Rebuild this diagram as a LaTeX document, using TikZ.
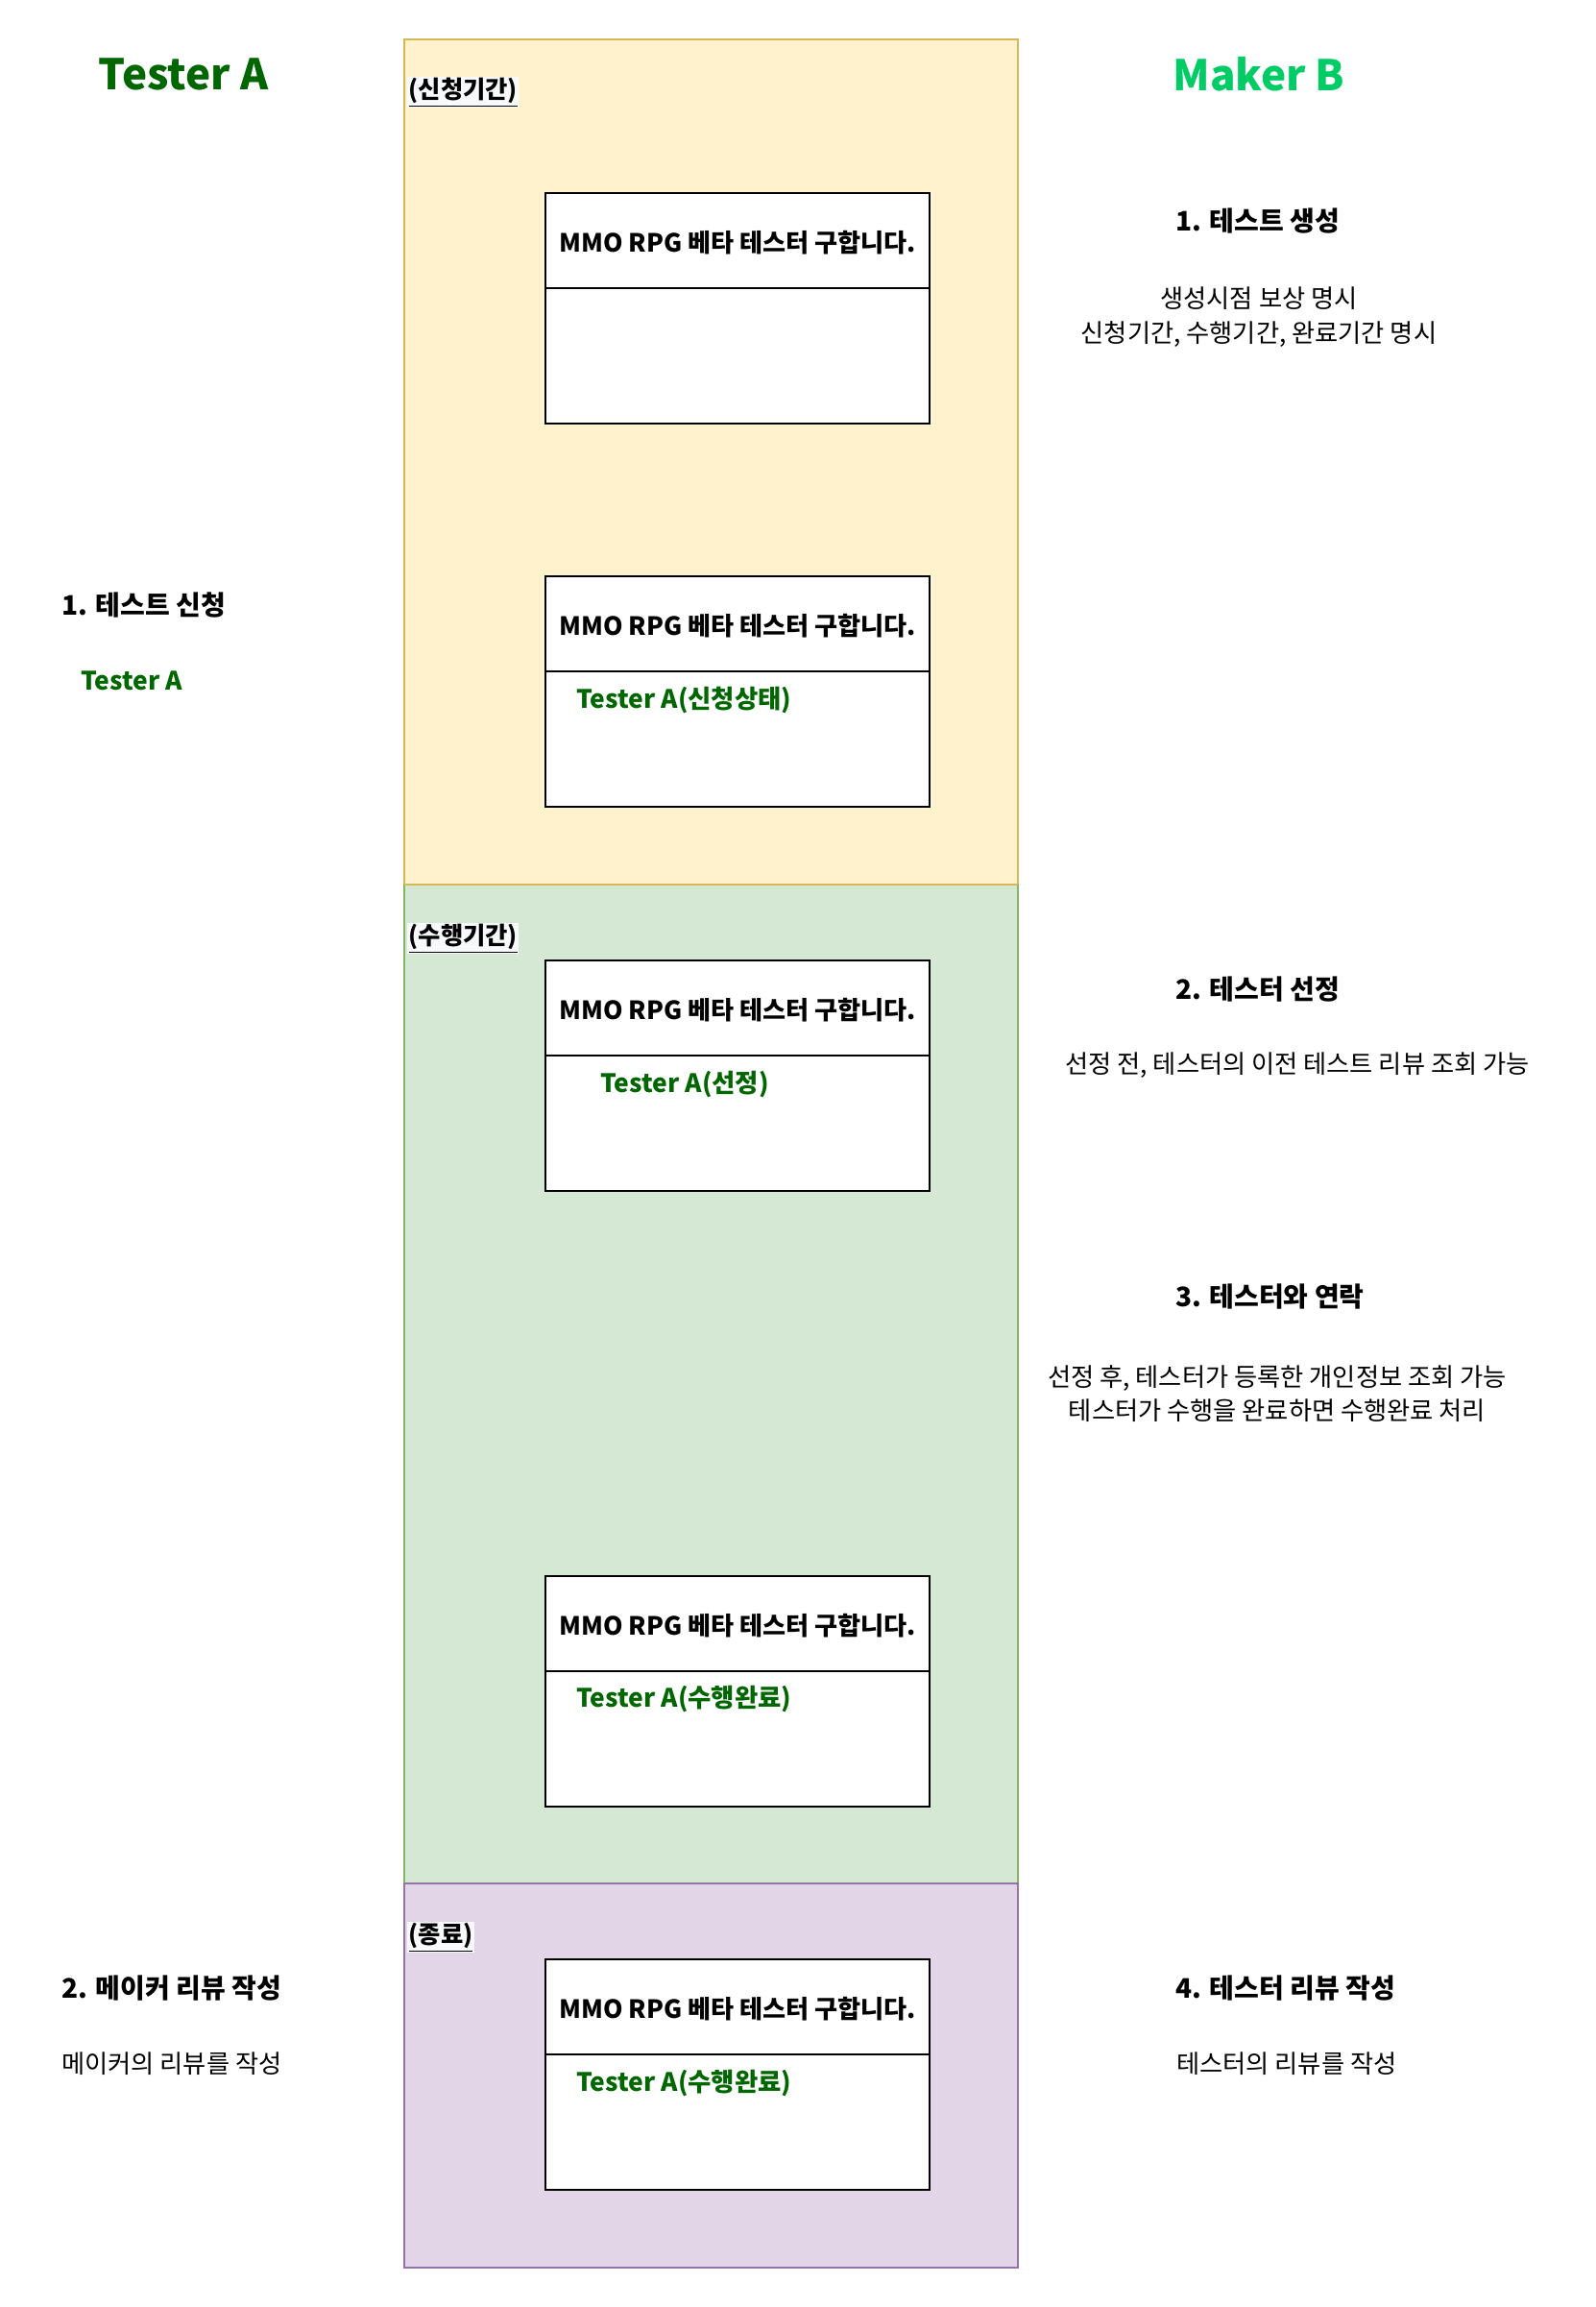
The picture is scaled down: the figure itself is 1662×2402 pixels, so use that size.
\documentclass[tikz,border=0pt]{standalone}
\usepackage{fontspec}
\setmainfont{Noto Sans CJK KR}
\usetikzlibrary{calc}
\definecolor{yfill}{HTML}{FFF2CC}
\definecolor{ystroke}{HTML}{D6B656}
\definecolor{gfill}{HTML}{D5E8D4}
\definecolor{gstroke}{HTML}{82B366}
\definecolor{pfill}{HTML}{E1D5E7}
\definecolor{pstroke}{HTML}{9673A6}
\definecolor{dgreen}{HTML}{006600}
\definecolor{lgreen}{HTML}{00CC66}
\definecolor{lblbg}{HTML}{F8F9FA}
\tikzset{
  title/.style={font=\fontsize{33}{40}\selectfont\bfseries, inner sep=0pt, yshift=-1.5pt},
  heading/.style={font=\fontsize{21}{26}\selectfont\bfseries, inner sep=0pt, anchor=west, yshift=-1.5pt},
  body/.style={font=\fontsize{19.7}{26.5}\selectfont, inner sep=0pt, align=center, yshift=-2.25pt},
  card/.style={draw=black, line width=1.5pt, fill=white, minimum width=300pt, minimum height=180pt, inner sep=0pt},
  cardtitle/.style={font=\fontsize{19.6}{24}\selectfont\bfseries, inner sep=0pt, yshift=-2pt},
  cardtext/.style={font=\fontsize{19.8}{24}\selectfont\bfseries, text=dgreen, inner sep=0pt, anchor=west, yshift=-2pt},
  phase/.style={font=\fontsize{19}{22}\selectfont\bfseries, fill=lblbg, inner sep=1pt, anchor=west, yshift=-3pt},
  region/.style={line width=1.1pt}
}
\newcommand{\cardbox}[3]{%
  \node[card] (#1) at (768,#2) {};
  \draw[line width=1.5pt] ($(#1.north west)+(0,100)$) -- ($(#1.north east)+(0,100)$);
  \node[cardtitle] (#1t) at ($(#1.north)+(0,50)$) {#3};
}
\begin{document}
\begin{tikzpicture}[x=0.75pt,y=-0.75pt]
\useasboundingbox (0,0) rectangle (1662,2402);
% regions
\draw[region, fill=yfill, draw=ystroke] (421,41) rectangle (1060,921);
\draw[region, fill=gfill, draw=gstroke] (421,921) rectangle (1060,1961);
\draw[region, fill=pfill, draw=pstroke] (421,1961) rectangle (1060,2361);
\draw[region, draw=ystroke] (421,921) -- (1060,921);
\draw[region, draw=pstroke] (421,1961) -- (1060,1961);
% phase labels
\node[phase] (p1) at (424,92) {\underline{(신청기간)}};
\node[phase] (p2) at (424,973) {\underline{(수행기간)}};
\node[phase] (p3) at (424,2013) {\underline{(종료)}};
% titles
\node[title, text=dgreen] (ta) at (191,75) {Tester A};
\node[title, text=lgreen] (mb) at (1311,75) {Maker B};
% cards
\cardbox{c1}{321}{MMO RPG 베타 테스터 구합니다.}
\cardbox{c2}{720}{MMO RPG 베타 테스터 구합니다.}
\cardbox{c3}{1120}{MMO RPG 베타 테스터 구합니다.}
\cardbox{c4}{1761}{MMO RPG 베타 테스터 구합니다.}
\cardbox{c5}{2160}{MMO RPG 베타 테스터 구합니다.}
\node[cardtext] (c2s) at (600,726) {Tester A(신청상태)};
\node[cardtext] (c3s) at (625,1126) {Tester A(선정)};
\node[cardtext] (c4s) at (600,1766) {Tester A(수행완료)};
\node[cardtext] (c5s) at (600,2166) {Tester A(수행완료)};
% left column
\node[heading] (l1) at (64,628) {1. 테스트 신청};
\node[cardtext] (l1b) at (84,706) {Tester A};
\node[heading] (l2) at (64,2068) {2. 메이커 리뷰 작성};
\node[body, anchor=west] (l2b) at (64,2146) {메이커의 리뷰를 작성};
% right column
\node[heading] (r1) at (1224,228) {1. 테스트 생성};
\node[body] (r1b) at (1311,327) {생성시점 보상 명시\\신청기간, 수행기간, 완료기간 명시};
\node[heading] (r2) at (1224,1028) {2. 테스터 선정};
\node[body] (r2b) at (1351,1106) {선정 전, 테스터의 이전 테스트 리뷰 조회 가능};
\node[heading] (r3) at (1224,1348) {3. 테스터와 연락};
\node[body] (r3b) at (1330,1448) {선정 후, 테스터가 등록한 개인정보 조회 가능\\테스터가 수행을 완료하면 수행완료 처리};
\node[heading] (r4) at (1224,2068) {4. 테스터 리뷰 작성};
\node[body, anchor=west] (r4b) at (1225,2146) {테스터의 리뷰를 작성};
\end{tikzpicture}
\end{document}
